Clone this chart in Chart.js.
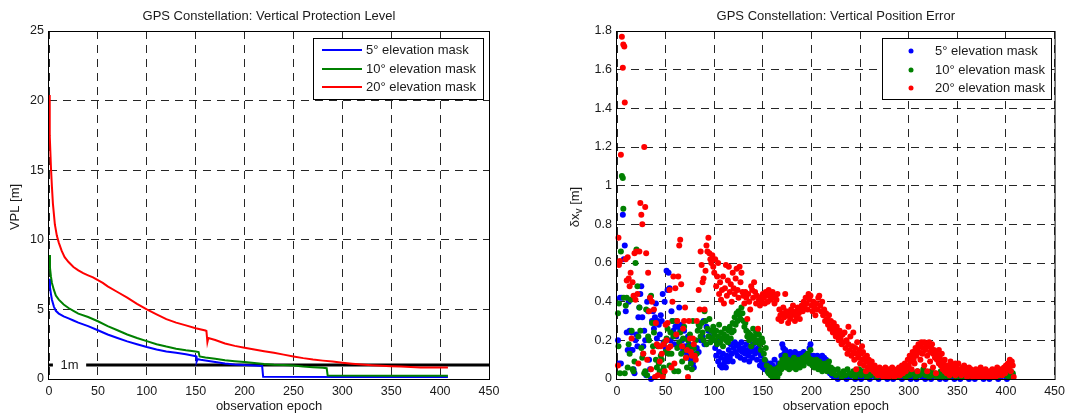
<!DOCTYPE html>
<html>
<head>
<meta charset="utf-8">
<title>GPS Constellation</title>
<script src="https://cdn.jsdelivr.net/npm/chart.js@4.4.0/dist/chart.umd.min.js"></script>
<style>
  body { margin: 0; background: #fff; }
  #wrap { position: relative; width: 1070px; height: 414px; }
  canvas { position: absolute; top: 0; }
</style>
</head>
<body>
<div id="wrap">
  <canvas id="vplChart" width="530" height="414" style="left:0"></canvas>
  <canvas id="errChart" width="540" height="414" style="left:530px"></canvas>
</div>
<script>
// ---- data ----
const seriesNames = ["5° elevation mask", "10° elevation mask", "20° elevation mask"];
const seriesColors = ["#0000ff", "#008000", "#ff0000"];
const epochTicks = [0, 50, 100, 150, 200, 250, 300, 350, 400, 450];
const vplTicks = [0, 5, 10, 15, 20, 25];
const errTicks = [0, 0.2, 0.4, 0.6, 0.8, 1, 1.2, 1.4, 1.6, 1.8];

// VPL curves: [epoch, VPL m]
const vpl5 = [[0,7.2],[1,6.6],[2,6.1],[3,5.7],[5,5.2],[7,4.9],[10,4.7],[15,4.5],[20,4.35],[25,4.2],[30,4.05],[40,3.8],[50,3.5],[60,3.2],[70,2.95],[80,2.7],[90,2.5],[100,2.3],[110,2.12],[120,1.98],[130,1.88],[140,1.77],[149,1.66],[150.5,1.63],[151,1.25],[152,1.42],[155,1.38],[160,1.33],[170,1.22],[180,1.12],[190,1.05],[200,1.0],[210,0.97],[218,0.93],[219,0.16],[300,0.15],[408,0.14]];
const vpl10 = [[0,8.9],[1,8.0],[2,7.35],[3,6.9],[5,6.4],[7,6.0],[10,5.7],[15,5.35],[20,5.1],[25,4.9],[30,4.7],[40,4.45],[50,4.15],[60,3.8],[70,3.5],[80,3.2],[90,2.95],[100,2.72],[110,2.5],[120,2.33],[130,2.18],[140,2.06],[150,1.97],[153,1.93],[154,1.62],[160,1.55],[170,1.45],[180,1.35],[190,1.28],[200,1.22],[210,1.15],[220,1.08],[230,1.03],[240,1.0],[250,0.97],[260,0.9],[270,0.85],[280,0.8],[284,0.77],[285,0.25],[350,0.24],[408,0.23]];
const vpl20 = [[0,20.4],[0.5,18.5],[1,17.5],[2,15.2],[3,13.8],[4,12.6],[6,11.1],[8,10.3],[10,9.8],[13,9.2],[16,8.75],[20,8.4],[25,8.05],[30,7.8],[35,7.6],[40,7.45],[45,7.3],[50,7.1],[55,6.9],[60,6.65],[70,6.25],[80,5.85],[90,5.4],[100,5.0],[110,4.65],[120,4.3],[130,4.05],[140,3.85],[150,3.65],[160,3.48],[161,3.45],[162,2.65],[163,2.95],[170,2.8],[180,2.55],[190,2.38],[200,2.25],[210,2.12],[220,2.0],[230,1.88],[240,1.75],[250,1.62],[260,1.5],[270,1.4],[280,1.32],[290,1.25],[300,1.17],[310,1.1],[320,1.04],[330,0.99],[340,0.95],[350,0.92],[360,0.89],[370,0.86],[380,0.82],[395,0.82],[408,0.82]];
const oneMeter = [[0,1],[450,1]];

// vertical position error: [epoch, error m]
const err5 = [[1,0.20],[2,0.08],[3,0.42],[4,0.08],[5,0.42],[6,0.85],[7,0.62],[8,0.69],[9,0.35],[10,0.24],[11,0.15],[12,0.40],[13,0.25],[14,0.15],[15,0.24],[16,0.15],[17,0.05],[18,0.03],[19,0.20],[20,0.23],[21,0.17],[22,0.32],[23,0.37],[24,0.44],[25,0.48],[26,0.32],[27,0.17],[28,0.25],[29,0.20],[30,0.02],[31,0.40],[32,0.35],[33,0.10],[34,0.05],[35,0.00],[36,0.30],[37,0.35],[38,0.26],[39,0.32],[40,0.39],[41,0.21],[42,0.30],[43,0.28],[44,0.23],[45,0.33],[46,0.30],[47,0.44],[48,0.19],[49,0.40],[50,0.16],[51,0.56],[52,0.46],[53,0.55],[54,0.47],[55,0.20],[56,0.35],[57,0.30],[58,0.25],[59,0.18],[60,0.27],[61,0.22],[62,0.27],[63,0.17],[64,0.37],[65,0.25],[66,0.28],[67,0.20],[68,0.15],[69,0.25],[70,0.17],[71,0.14],[72,0.12],[73,0.22],[74,0.18],[75,0.16],[76,0.10],[77,0.14],[78,0.08],[79,0.06],[80,0.12],[82,0.16],[84,0.14],[86,0.20],[88,0.22],[89,0.30],[90,0.18],[92,0.27],[94,0.25],[95,0.22],[96,0.25],[98,0.20],[100,0.24],
  [101,0.16],[102,0.12],[103,0.20],[104,0.09],[105,0.14],[106,0.07],[107,0.11],[108,0.06],[109,0.13],[110,0.08],[111,0.10],[112,0.06],[113,0.12],[114,0.09],[115,0.15],[116,0.11],[117,0.18],[118,0.13],[119,0.09],[120,0.16],[121,0.19],[122,0.14],[123,0.18],[124,0.12],[125,0.17],[126,0.15],[127,0.11],[128,0.19],[129,0.14],[130,0.16],[131,0.10],[132,0.13],[133,0.18],[134,0.15],[135,0.12],[136,0.09],[137,0.14],[138,0.17],[139,0.11],[140,0.18],[141,0.15],[142,0.13],[143,0.19],[144,0.10],[145,0.16],[146,0.14],[147,0.07],[148,0.12],[149,0.09],[150,0.06],[151,0.08],[152,0.05],[153,0.09],[154,0.07],[155,0.04],[156,0.06],[157,0.03],[158,0.08],[159,0.05],[160,0.07],[161,0.02],[162,0.10],[163,0.04],[164,0.06],[165,0.03],[166,0.08],[167,0.05],[168,0.07],[169,0.12],[170,0.18],[171,0.16],[172,0.13],[173,0.15],[174,0.11],[175,0.13],[176,0.10],[177,0.12],[178,0.14],[179,0.09],[180,0.13],[181,0.11],[182,0.12],[183,0.14],[184,0.10],[185,0.13],[186,0.12],[187,0.09],[188,0.11],[189,0.13],[190,0.12],[191,0.10],[192,0.14],[193,0.11],[194,0.09],[195,0.12],[196,0.10],[197,0.13],[198,0.16],[199,0.18],[200,0.11],[201,0.10],[202,0.12],[203,0.09],[204,0.11],[205,0.10],[206,0.12],[207,0.08],[208,0.10],[209,0.11],[210,0.09],[211,0.12],[212,0.10],[213,0.11],[214,0.09],[215,0.10],[216,0.08],[217,0.06],[218,0.04],[219,0.03],[220,0.05],[221,0.02],[222,0.03],[223,0.01],
  [224,0.02],[227,0.00],[230,0.01],[233,0.02],[236,0.00],[239,0.01],[242,0.02],[245,0.00],[248,0.01],[251,0.00],[254,0.02],[257,0.01],[260,0.00],[263,0.02],[266,0.01],[269,0.00],[272,0.01],[275,0.02],[278,0.00],[281,0.01],[284,0.00],[287,0.02],[290,0.01],[293,0.00],[296,0.01],[299,0.02],[302,0.00],[305,0.01],[308,0.00],[311,0.02],[314,0.01],[317,0.00],[320,0.01],[323,0.00],[326,0.02],[329,0.01],[332,0.00],[335,0.01],[338,0.00],[341,0.02],[344,0.01],[347,0.00],[350,0.01],[353,0.00],[356,0.02],[359,0.01],[362,0.00],[365,0.01],[368,0.00],[371,0.02],[374,0.01],[377,0.00],[380,0.01],[383,0.00],[386,0.02],[389,0.01],[392,0.00],[395,0.01],[398,0.02],[401,0.00],[404,0.01],[407,0.02]];

const err10 = [[1,0.34],[1.5,0.17],[2,0.39],[3,0.03],[4,0.66],[5,1.05],[6,1.04],[6.5,0.88],[7,0.42],[8,0.03],[9,0.38],[10,0.42],[11,0.06],[12,0.18],[13,0.13],[14,0.41],[15,0.25],[16,0.05],[17,0.04],[18,0.09],[19,0.60],[20,0.67],[21,0.48],[22,0.22],[23,0.37],[24,0.25],[25,0.16],[26,0.11],[27,0.13],[28,0.03],[29,0.04],[30,0.36],[31,0.02],[32,0.22],[33,0.20],[34,0.42],[35,0.43],[36,0.29],[37,0.17],[38,0.24],[39,0.29],[40,0.10],[41,0.06],[42,0.17],[43,0.08],[44,0.04],[45,0.12],[46,0.10],[47,0.02],[48,0.06],[49,0.19],[50,0.14],[51,0.21],[52,0.26],[53,0.13],[54,0.07],[55,0.24],[56,0.13],[57,0.30],[58,0.22],[59,0.04],[60,0.23],[61,0.30],[62,0.16],[63,0.04],[64,0.19],[65,0.24],[66,0.13],[67,0.09],[68,0.21],[69,0.27],[70,0.15],[71,0.11],[72,0.06],[73,0.20],[74,0.17],[75,0.23],[76,0.08],[77,0.05],[78,0.30],[79,0.16],[80,0.12],[81,0.20],[82,0.13],[83,0.25],[84,0.28],[85,0.27],[86,0.22],[87,0.29],[88,0.24],[89,0.20],[90,0.35],[91,0.30],[92,0.18],[93,0.26],[94,0.22],[95,0.31],[96,0.19],[97,0.25],[98,0.21],[99,0.27],[100,0.23],
  [101,0.20],[102,0.25],[103,0.18],[104,0.22],[105,0.28],[106,0.19],[107,0.24],[108,0.21],[109,0.17],[110,0.23],[111,0.26],[112,0.20],[113,0.22],[114,0.19],[115,0.25],[116,0.27],[117,0.21],[118,0.24],[119,0.29],[120,0.25],[121,0.32],[122,0.28],[123,0.34],[124,0.30],[125,0.35],[126,0.33],[127,0.31],[128,0.37],[129,0.34],[130,0.30],[131,0.27],[132,0.29],[133,0.25],[134,0.22],[135,0.24],[136,0.20],[137,0.23],[138,0.17],[139,0.21],[140,0.26],[141,0.22],[142,0.19],[143,0.24],[144,0.25],[145,0.20],[146,0.23],[147,0.18],[148,0.15],[149,0.21],[150,0.19],[151,0.13],[152,0.10],[153,0.16],[154,0.07],[155,0.04],[156,0.03],[157,0.06],[158,0.02],[159,0.05],[160,0.01],[161,0.04],[162,0.02],[163,0.05],[164,0.03],[165,0.01],[166,0.06],[167,0.03],[168,0.08],[169,0.05],[170,0.10],[171,0.07],[172,0.09],[173,0.12],[174,0.06],[175,0.08],[176,0.10],[177,0.05],[178,0.07],[179,0.09],[180,0.06],[181,0.08],[182,0.11],[183,0.07],[184,0.05],[185,0.09],[186,0.08],[187,0.10],[188,0.06],[189,0.08],[190,0.09],[191,0.11],[192,0.07],[193,0.10],[194,0.12],[195,0.09],[196,0.13],[197,0.11],[198,0.08],[199,0.15],[200,0.10],[201,0.07],[202,0.09],[203,0.06],[204,0.08],[205,0.10],[206,0.07],[207,0.05],[208,0.09],[209,0.06],[210,0.08],[211,0.04],[212,0.07],[213,0.05],[214,0.08],[215,0.06],[216,0.04],[217,0.07],[218,0.09],[219,0.05],[220,0.06],[221,0.03],[222,0.05],
  [223,0.04],[225,0.02],[227,0.05],[229,0.03],[231,0.01],[233,0.04],[235,0.02],[237,0.05],[239,0.03],[241,0.02],[243,0.04],[245,0.01],[247,0.03],[249,0.05],[251,0.02],[253,0.04],[255,0.03],[257,0.01],[259,0.04],[261,0.02],[263,0.05],[265,0.03],[267,0.01],[269,0.03],[271,0.02],[273,0.04],[275,0.01],[277,0.03],[279,0.02],[281,0.04],[283,0.01],[285,0.03],[287,0.02],[289,0.01],[291,0.03],[293,0.02],[295,0.04],[297,0.01],[299,0.03],[301,0.02],[303,0.04],[305,0.03],[307,0.01],[309,0.04],[311,0.02],[313,0.03],[315,0.05],[317,0.02],[319,0.03],[321,0.01],[323,0.04],[325,0.02],[327,0.03],[329,0.01],[331,0.02],[333,0.04],[335,0.01],[337,0.03],[339,0.02],[341,0.01],[343,0.03],[345,0.02],[347,0.04],[349,0.01],[351,0.02],[353,0.03],[355,0.01],[357,0.02],[359,0.04],[361,0.01],[363,0.03],[365,0.02],[367,0.01],[369,0.02],[371,0.03],[373,0.01],[375,0.02],[377,0.01],[379,0.03],[381,0.02],[383,0.01],[385,0.03],[387,0.02],[389,0.04],[391,0.01],[393,0.03],[395,0.02],[397,0.04],[399,0.02],[401,0.03],[403,0.01],[405,0.04],[407,0.03]];

const err20 = [[1,0.07],[1.5,0.73],[2,0.59],[3,0.61],[4,1.16],[5,1.77],[6,1.61],[6.5,1.73],[7.5,1.72],[8,1.43],[9,0.62],[10,0.51],[11,0.63],[12,0.52],[13,0.48],[14,0.55],[15,0.21],[16,0.50],[17,0.43],[18,0.65],[19,0.41],[20,0.66],[21,0.44],[22,0.08],[23,0.66],[24,0.91],[25,0.85],[26,0.80],[27,0.13],[28,1.20],[29,0.89],[30,0.65],[31,0.10],[32,0.55],[33,0.35],[34,0.42],[35,0.05],[36,0.40],[37,0.14],[38,0.36],[39,0.01],[40,0.29],[41,0.18],[42,0.02],[43,0.17],[44,0.09],[45,0.17],[46,0.13],[47,0.01],[48,0.18],[49,0.04],[50,0.28],[51,0.20],[52,0.29],[53,0.16],[54,0.46],[55,0.17],[56,0.06],[57,0.40],[58,0.53],[59,0.08],[60,0.47],[61,0.23],[62,0.30],[63,0.53],[64,0.69],[65,0.72],[66,0.49],[67,0.17],[68,0.26],[69,0.30],[70,0.37],[71,0.11],[72,0.15],[73,0.01],[74,0.30],[75,0.21],[76,0.14],[77,0.12],[78,0.21],[79,0.18],[80,0.12],[81,0.10],[82,0.30],[84,0.46],[85,0.36],[86,0.66],[87,0.59],[88,0.50],[89,0.52],[90,0.36],[91,0.56],[92,0.69],[93,0.66],[94,0.73],[95,0.65],[96,0.62],[97,0.60],[98,0.64],[99,0.58],[100,0.55],
  [101,0.62],[102,0.48],[103,0.53],[104,0.60],[105,0.44],[106,0.50],[107,0.41],[108,0.46],[109,0.53],[110,0.39],[111,0.47],[112,0.59],[113,0.43],[114,0.51],[115,0.58],[116,0.45],[117,0.49],[118,0.40],[119,0.55],[120,0.47],[121,0.44],[122,0.52],[123,0.57],[124,0.46],[125,0.42],[126,0.58],[127,0.50],[128,0.55],[129,0.45],[130,0.43],[131,0.39],[132,0.45],[133,0.42],[134,0.31],[135,0.44],[136,0.40],[137,0.36],[138,0.48],[139,0.46],[140,0.42],[141,0.50],[142,0.45],[143,0.39],[144,0.43],[145,0.26],[146,0.41],[147,0.38],[148,0.42],[149,0.40],[150,0.44],[151,0.42],[152,0.39],[153,0.45],[154,0.43],[155,0.40],[156,0.46],[157,0.44],[158,0.41],[159,0.43],[160,0.45],[161,0.42],[162,0.39],[163,0.43],[164,0.41],[165,0.44],[166,0.31],[167,0.36],[168,0.33],[169,0.30],[170,0.34],[171,0.37],[172,0.32],[173,0.44],[174,0.35],[175,0.33],[176,0.29],[177,0.34],[178,0.31],[179,0.36],[180,0.33],[181,0.38],[182,0.34],[183,0.30],[184,0.35],[185,0.32],[186,0.37],[187,0.34],[188,0.31],[189,0.36],[190,0.38],[191,0.35],[192,0.40],[193,0.37],[194,0.42],[195,0.39],[196,0.36],[197,0.44],[198,0.41],[199,0.43],[200,0.38],[201,0.35],[202,0.40],[203,0.37],[204,0.33],[205,0.39],[206,0.36],[207,0.42],[208,0.43],[209,0.38],[210,0.35],
  [211,0.40],[212,0.33],[213,0.36],[214,0.30],[215,0.34],[216,0.31],[217,0.28],[218,0.33],[219,0.26],[220,0.30],[221,0.27],[222,0.24],[223,0.29],[224,0.25],[225,0.22],[226,0.27],[227,0.23],[228,0.20],[229,0.25],[230,0.21],[231,0.18],[232,0.23],[233,0.19],[234,0.24],[235,0.16],[236,0.20],[237,0.13],[238,0.18],[239,0.15],[240,0.22],[241,0.12],[242,0.17],[243,0.14],[244,0.10],[245,0.16],[246,0.13],[247,0.19],[248,0.11],[249,0.15],[250,0.08],[251,0.13],[252,0.10],[253,0.14],[254,0.07],[255,0.11],[256,0.09],[257,0.12],[258,0.06],[259,0.10],[260,0.08],[261,0.05],[262,0.09],[263,0.06],[264,0.04],[265,0.07],[266,0.03],[267,0.05],[268,0.02],[269,0.04],[270,0.06],[271,0.02],[272,0.05],[273,0.03],[274,0.01],[275,0.04],[276,0.06],[277,0.02],[278,0.04],[279,0.01],[280,0.05],[281,0.03],[282,0.02],[283,0.06],[284,0.03],[285,0.01],[286,0.04],[287,0.02],[288,0.05],[289,0.03],[290,0.06],[291,0.02],[292,0.04],[293,0.07],[294,0.03],[295,0.05],[296,0.08],[297,0.04],[298,0.06],[299,0.10],[300,0.07],
  [238,0.27],[243,0.24],[246,0.05],[252,0.17],[256,0.04],[303,0.05],[306,0.08],[309,0.04],[312,0.10],[316,0.07],[319,0.04],[322,0.09],[325,0.06],[328,0.03],[331,0.15],[334,0.13],[337,0.10],[343,0.09],[348,0.08],
  [301,0.12],[302,0.09],[303,0.11],[304,0.14],[305,0.10],[306,0.13],[307,0.16],[308,0.12],[309,0.15],[310,0.18],[311,0.14],[312,0.17],[313,0.19],[314,0.13],[315,0.16],[316,0.19],[317,0.15],[318,0.18],[319,0.12],[320,0.17],[321,0.19],[322,0.14],[323,0.16],[324,0.18],[325,0.13],[326,0.15],[327,0.11],[328,0.14],[329,0.10],[330,0.12],[331,0.08],[332,0.11],[333,0.07],[334,0.09],[335,0.05],[336,0.08],[337,0.04],[338,0.06],[339,0.03],[340,0.07],[341,0.05],[342,0.02],[343,0.06],[344,0.04],[345,0.07],[346,0.03],[347,0.05],[348,0.02],[349,0.06],[350,0.04],[351,0.08],[352,0.03],[353,0.05],[354,0.02],[355,0.06],[356,0.04],[357,0.07],[358,0.03],[359,0.05],[360,0.01],[361,0.04],[362,0.06],[363,0.02],[364,0.05],[365,0.03],[366,0.01],[367,0.04],[368,0.02],[369,0.05],[370,0.03],[371,0.01],[372,0.04],[373,0.02],[374,0.06],[375,0.03],[376,0.01],[377,0.04],[378,0.02],[379,0.05],[380,0.03],[381,0.01],[382,0.02],[383,0.04],[384,0.01],[385,0.03],[386,0.05],[387,0.02],[388,0.04],[389,0.01],[390,0.03],[391,0.06],[392,0.02],[393,0.04],[394,0.03],[395,0.05],[396,0.02],[397,0.04],[398,0.06],[399,0.03],[400,0.07],[401,0.05],[402,0.08],[403,0.06],[404,0.10],[405,0.04],[406,0.09],[407,0.07],[408,0.01]];

// ---- styling helpers ----
const FONT = '"Liberation Sans", Arial, Helvetica, sans-serif';
const TEXT = "#1a1a1a";
const toXY = (arr) => arr.map(p => ({ x: p[0], y: p[1] }));

function axisOpts(ticks, fitSize, isX) {
  return {
    type: "linear",
    min: ticks[0],
    max: ticks[ticks.length - 1],
    afterBuildTicks: (axis) => { axis.ticks = ticks.map(v => ({ value: v })); },
    afterFit: (axis) => { if (isX) axis.height = fitSize; else axis.width = fitSize; },
    grid: { color: "rgba(0,0,0,0.85)", lineWidth: 1, drawTicks: false },
    border: { display: false, dash: [8, 6] },
    ticks: {
      color: TEXT,
      padding: 5,
      font: { family: FONT, size: 12.5 },
      callback: (v) => String(+v.toFixed(1))
    }
  };
}

// frame, titles, legend etc. drawn on top
function decorPlugin(cfg) {
  return {
    id: "decor",
    afterDatasetsDraw(chart) {
      const { ctx, chartArea: a, scales } = chart;
      ctx.save();
      // 1m label (left chart)
      if (cfg.oneMeterLabel) {
        const y1 = scales.y.getPixelForValue(1);
        const xa = scales.x.getPixelForValue(4);
        const xb = scales.x.getPixelForValue(38);
        ctx.fillStyle = "#fff";
        ctx.fillRect(xa, y1 - 7, xb - xa, 14);
        ctx.fillStyle = TEXT;
        ctx.font = "13px " + FONT;
        ctx.textAlign = "center";
        ctx.textBaseline = "middle";
        ctx.fillText("1m", (xa + xb) / 2, y1);
      }
      // axes box
      ctx.strokeStyle = "#000";
      ctx.lineWidth = 1;
      ctx.strokeRect(a.left - 0.5, a.top + 0.5, a.right - a.left + 1, a.bottom - a.top);
      // title
      ctx.fillStyle = TEXT;
      ctx.font = "13px " + FONT;
      ctx.textAlign = "center";
      ctx.textBaseline = "middle";
      const cx = (a.left + a.right) / 2;
      ctx.fillText(cfg.title, cx, 16);
      ctx.fillText("observation epoch", cx, 406);
      // y title
      ctx.save();
      ctx.translate(cfg.yTitleX, (a.top + a.bottom) / 2 + 2);
      ctx.rotate(-Math.PI / 2);
      if (cfg.yTitleSub) {
        const parts = cfg.yTitle;
        const w1 = ctx.measureText(parts[0]).width;
        ctx.font = "10px " + FONT;
        const w2 = ctx.measureText(parts[1]).width;
        ctx.font = "13px " + FONT;
        const w3 = ctx.measureText(parts[2]).width;
        const x0 = -(w1 + w2 + w3) / 2;
        ctx.textAlign = "left";
        ctx.fillText(parts[0], x0, 0);
        ctx.font = "10px " + FONT;
        ctx.fillText(parts[1], x0 + w1, 4);
        ctx.font = "13px " + FONT;
        ctx.fillText(parts[2], x0 + w1 + w2, 0);
      } else {
        ctx.fillText(cfg.yTitle, 0, 0);
      }
      ctx.restore();
      // legend
      const L = cfg.legend;
      ctx.fillStyle = "#fff";
      ctx.fillRect(L.x, L.y, L.w, L.h);
      ctx.strokeStyle = "#000";
      ctx.strokeRect(L.x + 0.5, L.y + 0.5, L.w, L.h);
      seriesNames.forEach((name, i) => {
        const ry = L.rows[i];
        ctx.strokeStyle = seriesColors[i];
        ctx.fillStyle = seriesColors[i];
        if (L.kind === "line") {
          ctx.lineWidth = 2;
          ctx.beginPath();
          ctx.moveTo(L.sx0, ry);
          ctx.lineTo(L.sx1, ry);
          ctx.stroke();
        } else {
          ctx.beginPath();
          ctx.arc(L.sx0, ry, 2.5, 0, Math.PI * 2);
          ctx.fill();
        }
        ctx.fillStyle = TEXT;
        ctx.font = "13px " + FONT;
        ctx.textAlign = "left";
        ctx.textBaseline = "middle";
        ctx.fillText(name, L.tx, ry);
      });
      ctx.restore();
    }
  };
}

// ---- left: vertical protection level ----
new Chart(document.getElementById("vplChart"), {
  type: "scatter",
  data: {
    datasets: [
      { data: toXY(vpl20), borderColor: seriesColors[2], borderWidth: 2, showLine: true, pointRadius: 0, order: 1 },
      { data: toXY(vpl10), borderColor: seriesColors[1], borderWidth: 2, showLine: true, pointRadius: 0, order: 2 },
      { data: toXY(vpl5), borderColor: seriesColors[0], borderWidth: 2, showLine: true, pointRadius: 0, order: 3 },
      { data: toXY(oneMeter), borderColor: "#000", borderWidth: 3, showLine: true, pointRadius: 0, order: 4 }
    ]
  },
  options: {
    responsive: false,
    animation: false,
    layout: { padding: { top: 31, right: 41, bottom: 0, left: 0 } },
    plugins: { legend: { display: false }, tooltip: { enabled: false } },
    scales: {
      x: axisOpts(epochTicks, 35, true),
      y: axisOpts(vplTicks, 49, false)
    }
  },
  plugins: [decorPlugin({
    title: "GPS Constellation: Vertical Protection Level",
    yTitle: "VPL [m]",
    yTitleX: 15,
    oneMeterLabel: true,
    legend: { kind: "line", x: 313, y: 38, w: 170, h: 61, rows: [50, 69, 87], sx0: 322, sx1: 362, tx: 366 }
  })]
});

// ---- right: vertical position error ----
new Chart(document.getElementById("errChart"), {
  type: "scatter",
  data: {
    datasets: [
      { data: toXY(err20), backgroundColor: seriesColors[2], pointRadius: 3, pointBorderWidth: 0, order: 1, clip: false },
      { data: toXY(err10), backgroundColor: seriesColors[1], pointRadius: 3, pointBorderWidth: 0, order: 2, clip: false },
      { data: toXY(err5), backgroundColor: seriesColors[0], pointRadius: 3, pointBorderWidth: 0, order: 3, clip: false }
    ]
  },
  options: {
    responsive: false,
    animation: false,
    layout: { padding: { top: 31, right: 13, bottom: 0, left: 0 } },
    plugins: { legend: { display: false }, tooltip: { enabled: false } },
    scales: {
      x: axisOpts(epochTicks, 35, true),
      y: axisOpts(errTicks, 87, false)
    }
  },
  plugins: [decorPlugin({
    title: "GPS Constellation: Vertical Position Error",
    yTitle: ["δx", "v", " [m]"],
    yTitleSub: true,
    yTitleX: 45,
    legend: { kind: "dot", x: 352, y: 38, w: 169, h: 61, rows: [51, 70, 88], sx0: 381, tx: 405 }
  })]
});
</script>
</body>
</html>
